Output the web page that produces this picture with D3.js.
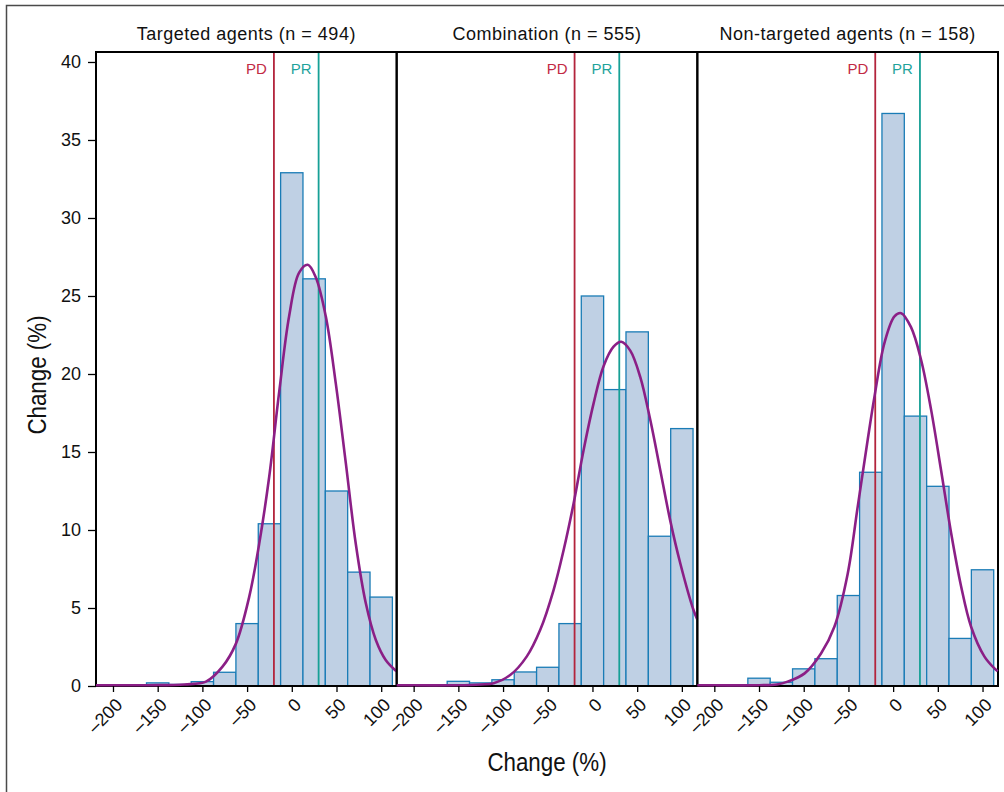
<!DOCTYPE html>
<html>
<head>
<meta charset="utf-8">
<script src="https://cdn.jsdelivr.net/npm/d3@7/dist/d3.min.js"></script>
<style>
  body { margin: 0; background: #fff; }
  svg { display: block; font-family: "Liberation Sans", Arial, sans-serif; }
</style>
</head>
<body>
<svg id="chart" width="1004" height="792"></svg>
<script>
// histogram bin centres (bin width 25)
const binCenters = [-200, -175, -150, -125, -100, -75, -50, -25, 0, 25, 50, 75, 100];

const panelTitles = ["Targeted agents (n = 494)", "Combination (n = 555)", "Non-targeted agents (n = 158)"];

const targetedBars    = [0, 0, 0.2, 0.1, 0.28, 0.88, 4.0, 10.4, 32.9, 26.1, 12.5, 7.3, 5.7];
const combinationBars = [0, 0, 0.3, 0.2, 0.4, 0.9, 1.2, 4.0, 25.0, 19.0, 22.7, 9.6, 16.5];
const nonTargetedBars = [0, 0, 0.5, 0.24, 1.1, 1.75, 5.8, 13.7, 36.7, 17.3, 12.8, 3.05, 7.45];

// density curves as [change, percent]
const targetedCurve = [[-219, 0.05], [-160, 0.05], [-120, 0.1], [-96, 0.28], [-77.5, 1.24], [-62.6, 2.7],
  [-47.7, 5.7], [-36.5, 9.1], [-25.3, 13.4], [-14.2, 18.8], [-3, 23.7], [8.2, 26.5], [17.9, 27.0],
  [26.8, 26.2], [38, 23.7], [49.2, 19.4], [60.4, 14.3], [71.6, 9.1], [82.8, 5.3], [94, 2.95],
  [105, 1.67], [117, 0.95]];
const combinationCurve = [[-219, 0.05], [-150, 0.05], [-125, 0.1], [-110.6, 0.17], [-92, 0.7], [-73.4, 1.9],
  [-58.4, 3.6], [-43.5, 6.15], [-32.3, 8.7], [-21.1, 11.7], [-10, 15.1], [1.2, 18.1], [12.4, 20.5],
  [23.6, 21.75], [32.2, 22.07], [42.3, 21.5], [53.5, 19.8], [64.7, 17.05], [75.8, 13.85], [87, 10.6],
  [98.2, 7.87], [113, 4.87], [117, 4.3]];
const nonTargetedCurve = [[-219, 0.05], [-150, 0.05], [-130, 0.1], [-118, 0.28], [-99, 0.81], [-80.5, 2.1],
  [-65.7, 3.8], [-50.8, 7.2], [-39.6, 11.5], [-28.4, 15.8], [-21, 18.5], [-9.7, 22.0], [1.5, 23.7],
  [9, 23.9], [20, 23.0], [31.3, 20.9], [42.5, 17.7], [53.7, 13.8], [64.9, 9.8], [76, 6.4],
  [87.2, 3.8], [102, 1.9], [113.3, 1.13], [117, 0.95]];

const xTicks = [-200, -150, -100, -50, 0, 50, 100];
const yTicks = [0, 5, 10, 15, 20, 25, 30, 35, 40];
const pdValue = -20, prValue = 30;

const panels = [
  { title: panelTitles[0], bars: targetedBars, curve: targetedCurve },
  { title: panelTitles[1], bars: combinationBars, curve: combinationCurve },
  { title: panelTitles[2], bars: nonTargetedBars, curve: nonTargetedCurve }
];

const svg = d3.select("#chart");
const plotLeft = 96, plotTop = 52, plotBottom = 686, panelW = 902 / 3;

// outer frame (runs off the right and bottom edges)
svg.append("rect").attr("x", 6.5).attr("y", 5.5).attr("width", 1020).attr("height", 800)
  .attr("fill", "none").attr("stroke", "#4a4a4a").attr("stroke-width", 1.5);

const y = d3.scaleLinear().domain([0, 40.64]).range([plotBottom, plotTop]);
const fmt = d => d < 0 ? "\u2013" + Math.abs(d) : d;

panels.forEach((p, i) => {
  const x0 = plotLeft + i * panelW;
  const x = d3.scaleLinear().domain([-219, 117.3]).range([x0, x0 + panelW]);
  const g = svg.append("g");

  // title
  g.append("text").attr("x", x0 + panelW / 2).attr("y", 40).attr("text-anchor", "middle")
    .attr("font-size", 18).attr("letter-spacing", 0.5).attr("fill", "#111").text(p.title);

  // bars
  const data = binCenters.map((c, k) => ({ c, v: p.bars[k] })).filter(d => d.v > 0);
  g.selectAll("rect.bar").data(data).join("rect").attr("class", "bar")
    .attr("x", d => x(d.c - 12.5)).attr("width", d => x(d.c + 12.5) - x(d.c - 12.5))
    .attr("y", d => y(d.v)).attr("height", d => y(0) - y(d.v))
    .attr("fill", "#bfd0e4").attr("stroke", "#1a7cb6").attr("stroke-width", 1.3);

  // PD / PR lines
  [[pdValue, "PD", "#b3243c", "#c22a44"], [prValue, "PR", "#17a096", "#1fa39b"]].forEach(([v, lab, col, tcol]) => {
    g.append("line").attr("x1", x(v)).attr("x2", x(v)).attr("y1", plotTop).attr("y2", plotBottom)
      .attr("stroke", col).attr("stroke-width", 1.8);
    g.append("text").attr("x", x(v) - 7).attr("y", 74).attr("text-anchor", "end")
      .attr("font-size", 15).attr("fill", tcol).text(lab);
  });

  // panel border
  g.append("rect").attr("x", x0).attr("y", plotTop).attr("width", panelW).attr("height", plotBottom - plotTop)
    .attr("fill", "none").attr("stroke", "#000").attr("stroke-width", 2);

  // fitted curve
  g.append("path").datum(p.curve)
    .attr("d", d3.line().x(d => x(d[0])).y(d => y(d[1])).curve(d3.curveCatmullRom.alpha(0.5)))
    .attr("fill", "none").attr("stroke", "#8b1f86").attr("stroke-width", 2.6);

  // x axis
  const ax = g.append("g").attr("transform", `translate(0,${plotBottom})`)
    .call(d3.axisBottom(x).tickValues(xTicks).tickSize(6).tickFormat(fmt));
  ax.select(".domain").remove();
  ax.selectAll(".tick line").attr("stroke", "#000").attr("stroke-width", 1.3);
  ax.selectAll(".tick text").attr("font-size", 18).attr("fill", "#111")
    .attr("text-anchor", "end").attr("dy", null).attr("y", 0)
    .attr("transform", "translate(10,20) rotate(-45)");
});

// y axis
const ay = svg.append("g").attr("transform", `translate(${plotLeft},0)`)
  .call(d3.axisLeft(y).tickValues(yTicks).tickSize(8));
ay.select(".domain").remove();
ay.selectAll(".tick line").attr("stroke", "#000").attr("stroke-width", 1.3);
ay.selectAll(".tick text").attr("font-size", 18).attr("fill", "#111").attr("x", -15);

// axis titles (condensed look)
svg.append("text").attr("transform", "translate(547,771) scale(0.86,1)").attr("text-anchor", "middle")
  .attr("font-size", 26).attr("fill", "#111").text("Change (%)");
svg.append("text").attr("transform", "translate(46,375) rotate(-90) scale(0.86,1)").attr("text-anchor", "middle")
  .attr("font-size", 26).attr("fill", "#111").text("Change (%)");
</script>
</body>
</html>
